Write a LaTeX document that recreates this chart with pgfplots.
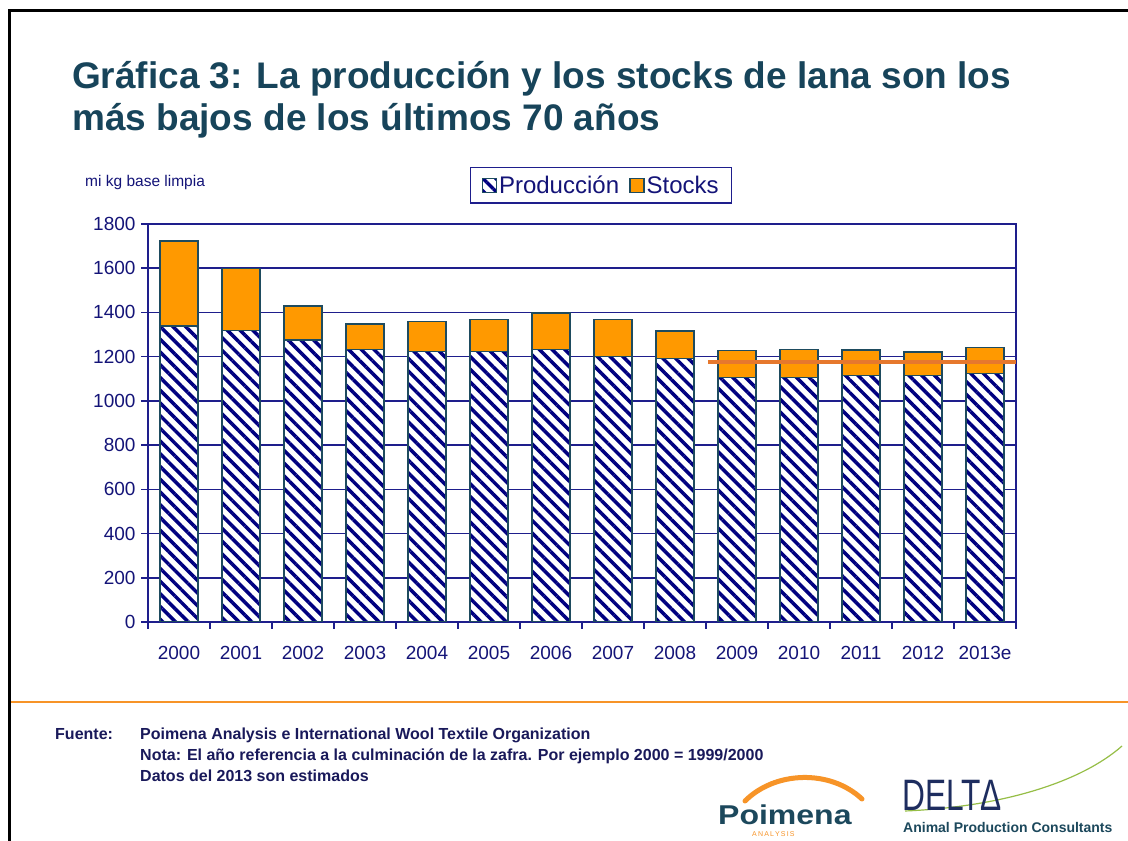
\documentclass[border=0pt]{standalone}
\usepackage{pgfplots}
\pgfplotsset{compat=1.18}
\usetikzlibrary{patterns.meta}
\usepackage{fontspec}
\setmainfont{Liberation Sans}
\definecolor{navy}{RGB}{30,30,140}
\definecolor{labnavy}{RGB}{20,20,120}
\definecolor{titlec}{RGB}{23,68,90}
\definecolor{baredge}{RGB}{30,75,95}
\definecolor{stockor}{RGB}{255,153,0}
\definecolor{hatch}{RGB}{0,0,128}
\definecolor{lineor}{RGB}{230,120,45}
\definecolor{ruleor}{RGB}{247,148,40}
\definecolor{footc}{RGB}{25,25,90}
\definecolor{poic}{RGB}{28,72,92}
\definecolor{deltac}{RGB}{30,45,95}
\definecolor{greenc}{RGB}{150,190,70}
\pgfplotstableread{
x prod stock
0 1338 386
1 1318 281
2 1276 154
3 1233 114
4 1223 135
5 1223 145
6 1232 165
7 1200 168
8 1192 123
9 1106 123
10 1106 126
11 1114 116
12 1114 107
13 1124 117
}\datatab
\begin{document}
\begin{tikzpicture}[x=1pt,y=1pt]
\path[use as bounding box] (0,0) rectangle (1128,841);
\fill[white] (0,0) rectangle (1128,841);
\draw[black, line width=3pt] (9,0) -- (9,830) -- (1128,830);
\draw[ruleor, line width=2pt] (11,139) -- (1128,139);
% title
\node[anchor=base west, inner sep=0pt, text=titlec, font=\fontsize{37}{40}\selectfont\bfseries] at (72,752) {Gráfica 3: La producción y los stocks de lana son los};
\node[anchor=base west, inner sep=0pt, text=titlec, font=\fontsize{37}{40}\selectfont\bfseries] at (72,710) {más bajos de los últimos 70 años};
\node[anchor=base west, inner sep=0pt, text=labnavy, font=\fontsize{15.5}{15.5}\selectfont] at (85,654) {mi kg base limpia};
\begin{axis}[
  at={(148pt,219pt)}, anchor=south west,
  scale only axis, width=868pt, height=398pt,
  xmin=-0.5, xmax=13.5, ymin=0, ymax=1800,
  ybar stacked, bar width=38pt,
  axis line style={navy, line width=1.5pt},
  ytick={0,200,...,1800}, ymajorgrids,
  grid style={navy, line width=1.5pt},
  xtick={-0.5,0.5,...,13.5},
  xticklabels={2000,2001,2002,2003,2004,2005,2006,2007,2008,2009,2010,2011,2012,2013e,{}},
  xticklabel style={xshift=31pt, yshift=-14pt},
  tick style={navy, line width=1.5pt},
  tick align=outside, major tick length=7pt,
  ytick pos=left, xtick pos=bottom,
  /pgf/number format/assume math mode=true,
  /pgf/number format/set thousands separator={},
  ticklabel style={font=\fontsize{19}{19}\selectfont, text=labnavy},
  yticklabel style={xshift=-2pt},
  legend style={at={(0.522,1.097)}, anchor=center, draw=navy, line width=1.3pt,
    font=\fontsize{24}{24}\selectfont, text=labnavy, inner xsep=11pt, inner ysep=6pt,
    /tikz/every even column/.append style={column sep=8pt}},
  legend columns=2,
  legend image code/.code={\draw[#1] (0pt,-7pt) rectangle (14pt,7pt);},
]
\addplot[preaction={fill=white}, pattern={Lines[angle=-45,distance=9pt,line width=3.5pt]}, pattern color=hatch, draw=baredge, line width=1.5pt] table[x=x,y=prod] {\datatab};
\addplot[fill=stockor, draw=baredge, line width=1.5pt] table[x=x,y=stock] {\datatab};
\legend{Producción,Stocks}
\end{axis}
\begin{axis}[
  at={(148pt,219pt)}, anchor=south west,
  scale only axis, width=868pt, height=398pt,
  xmin=-0.5, xmax=13.5, ymin=0, ymax=1800,
  hide axis, clip=false]
\addplot[lineor, line width=4pt, mark=none] coordinates {(8.53,1175) (13.5,1175)};
\end{axis}
% footer
\begin{scope}[font=\fontsize{16}{16}\selectfont\bfseries, text=footc]
\node[anchor=base west, inner sep=0pt] at (55,101) {Fuente:};
\node[anchor=base west, inner sep=0pt] at (140,101) {Poimena Analysis e International Wool Textile Organization};
\node[anchor=base west, inner sep=0pt] at (140,80) {Nota: El año referencia a la culminación de la zafra. Por ejemplo 2000 = 1999/2000};
\node[anchor=base west, inner sep=0pt] at (140,59) {Datos del 2013 son estimados};
\end{scope}
% logos
\draw[ruleor, line width=5pt, line cap=round] (745,40) .. controls (775,70) and (830,72) .. (862,42);
\draw[ruleor, line width=2pt, line cap=round] (770,58) .. controls (795,68) and (830,66) .. (850,52);
\node[anchor=base west, inner sep=0pt, text=poic, font=\fontsize{32}{32}\selectfont\bfseries] at (718,16) {\scalebox{1}[0.85]{Poimena}};
\node[anchor=base west, inner sep=0pt, text=ruleor, font=\fontsize{7}{7}\selectfont] at (752,4) {A\,N\,A\,L\,Y\,S\,I\,S};
\draw[greenc, line width=1.2pt] (905,30) .. controls (1000,34) and (1080,58) .. (1122,95);
\node[anchor=base west, inner sep=0pt, text=deltac, font=\fontsize{44}{44}\selectfont] at (902,30) {\scalebox{0.72}[1]{DELTΔ}};
\node[anchor=base west, inner sep=0pt, text=poic, font=\fontsize{14}{14}\selectfont\bfseries] at (903,8) {Animal Production Consultants};
\end{tikzpicture}
\end{document}
